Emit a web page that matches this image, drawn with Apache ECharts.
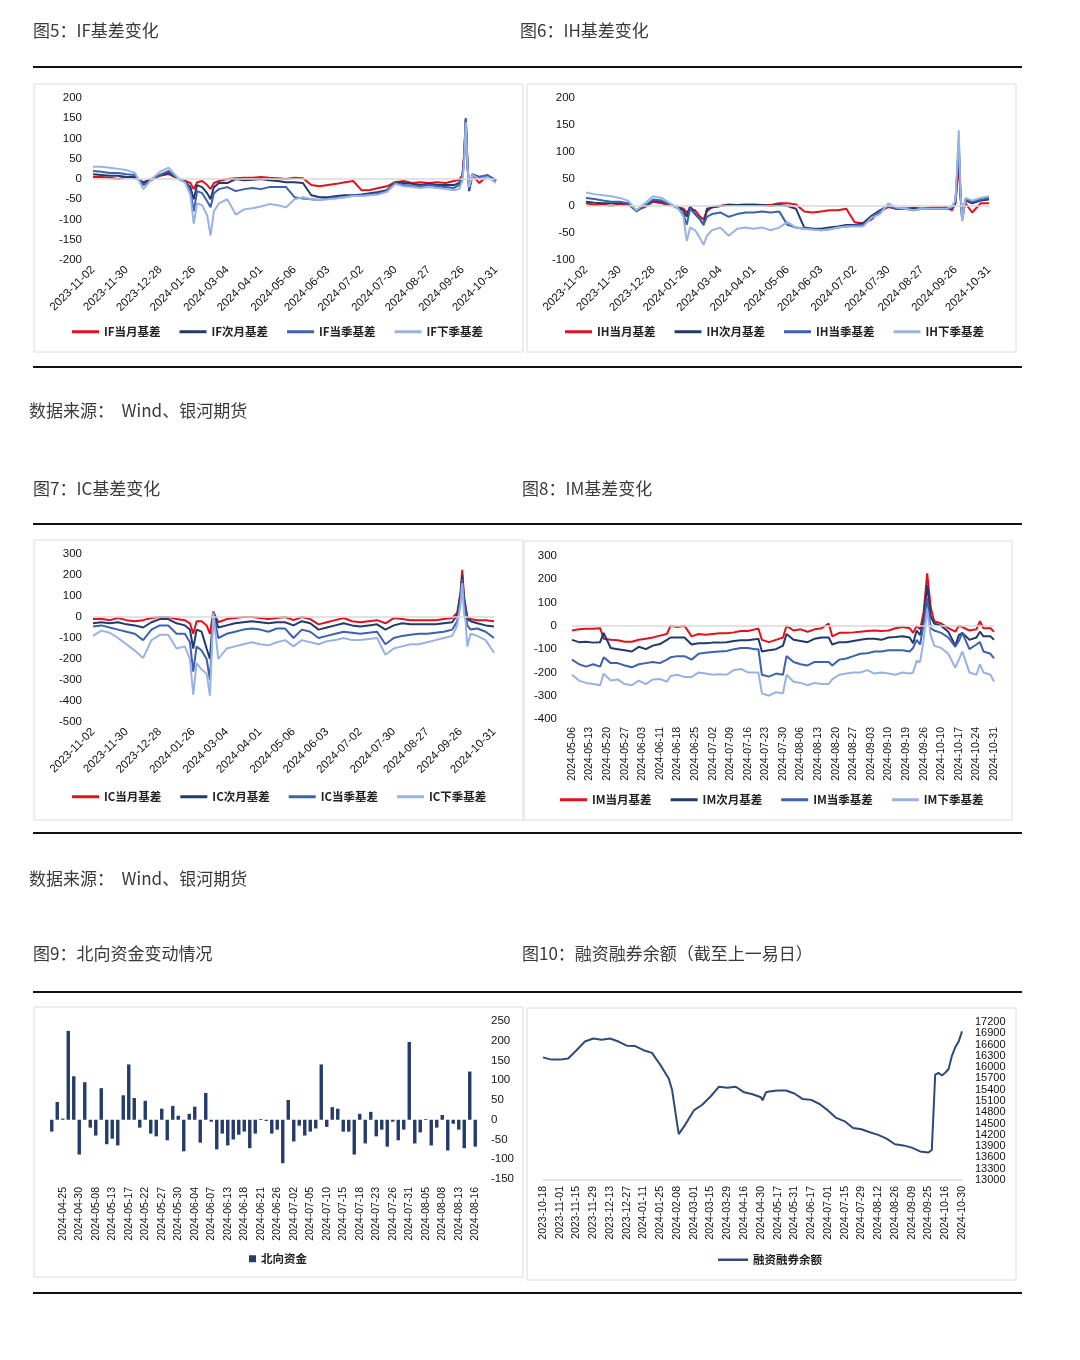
<!DOCTYPE html>
<html>
<head>
<meta charset="utf-8">
<script src="https://cdn.jsdelivr.net/npm/echarts@6/dist/echarts.min.js"></script>
<style>
html,body{margin:0;padding:0;background:#fff;}
#c{width:1080px;height:1360px;}
</style>
</head>
<body>
<div id="c"></div>
<script>
// ---------- tick labels ----------
const BASIS_TICKS = ['2023-11-02','2023-11-30','2023-12-28','2024-01-26','2024-03-04','2024-04-01','2024-05-06','2024-06-03','2024-07-02','2024-07-30','2024-08-27','2024-09-26','2024-10-31'];
const IM_TICKS = ['2024-05-06','2024-05-13','2024-05-20','2024-05-27','2024-06-03','2024-06-11','2024-06-18','2024-06-25','2024-07-02','2024-07-09','2024-07-16','2024-07-23','2024-07-30','2024-08-06','2024-08-13','2024-08-20','2024-08-27','2024-09-03','2024-09-10','2024-09-19','2024-09-26','2024-10-10','2024-10-17','2024-10-24','2024-10-31'];
const MG_TICKS = ['2023-10-18','2023-11-01','2023-11-15','2023-11-29','2023-12-13','2023-12-27','2024-01-11','2024-01-25','2024-02-08','2024-03-01','2024-03-15','2024-03-29','2024-04-16','2024-04-30','2024-05-17','2024-05-31','2024-06-17','2024-07-01','2024-07-15','2024-07-29','2024-08-12','2024-08-26','2024-09-09','2024-09-25','2024-10-16','2024-10-30'];

// ---------- IF / IH / IC: trading-day index of each sample (0 = 2023-11-02, 240 = 2024-10-31) ----------
const BASIS_DAY = [0,5,10,15,20,25,30,35,40,45,50,55,58,60,62,65,68,70,72,75,80,85,90,95,100,105,110,115,120,125,130,135,140,145,150,155,160,165,170,175,180,185,190,195,200,205,210,215,218,220,221,222,223,224,226,230,235,240];

const IF_CUR  = [5,5,3,0,5,3,-8,0,8,12, 2,-5,-10,-25,-8,-5,-15,-25,-10,-5, 0,2,3,3,5,3,2,0,3,2, -15,-18,-15,-12,-8,-5,-28,-27,-22,-18, -8,-5,-10,-8,-10,-8,-10,-5,-2,10, 60,145,30,-20,10,-10,8,-3];
const IF_NEXT = [12,10,8,8,5,5,-10,0,10,15, 3,-8,-20,-50,-15,-20,-35,-50,-20,-10, -10,0,-3,-2,0,-3,-5,-8,-8,-10, -40,-45,-45,-42,-40,-40,-38,-35,-32,-28, -8,-10,-12,-15,-12,-15,-15,-15,-10,5, 50,150,40,-30,10,5,8,-3];
const IF_Q    = [20,18,15,15,12,10,-15,-2,10,20, 3,-8,-30,-80,-30,-35,-55,-70,-35,-25, -20,-30,-25,-22,-25,-20,-20,-20,-45,-48, -50,-52,-48,-45,-45,-40,-40,-38,-35,-30, -10,-15,-18,-18,-15,-18,-20,-22,-15,5, 50,150,40,-25,12,5,10,-5];
const IF_NQ   = [30,30,28,25,22,15,-25,0,18,28, 5,-10,-40,-110,-60,-65,-90,-140,-80,-60, -50,-88,-75,-72,-68,-62,-65,-70,-50,-45, -50,-52,-50,-48,-45,-42,-42,-40,-38,-32, -12,-18,-20,-22,-20,-22,-25,-28,-25,-5, 40,140,30,-20,10,0,5,-10];

const IH_CUR  = [5,2,3,0,3,3,-8,-2,8,5, 2,-2,-5,-12,-5,-8,-20,-25,-10,-2, 0,3,2,2,3,2,2,5,5,3, -10,-12,-10,-8,-8,-5,-30,-32,-25,-10, -2,-5,-5,-3,-5,-3,-3,-2,-8,5, 40,80,20,-15,5,-12,5,5];
const IH_NEXT = [8,6,5,5,5,5,-8,0,10,8, 3,-3,-8,-20,0,-15,-25,-35,-5,-3, 0,2,2,3,2,2,0,2,0,-5, -40,-42,-42,-40,-38,-35,-35,-32,-18,-8, 0,-5,-5,-5,-5,-5,-5,-5,-5,5, 50,110,20,-25,10,5,10,12];
const IH_Q    = [15,13,10,8,8,5,-10,0,12,10, 3,-5,-15,-35,-5,-15,-25,-35,-20,-15, -12,-20,-15,-12,-12,-10,-12,-10,-35,-40, -42,-42,-45,-43,-40,-38,-36,-35,-20,-10, 0,-5,-5,-8,-5,-5,-5,-5,-5,8, 60,120,25,-25,12,8,12,15];
const IH_NQ   = [25,22,20,18,15,10,-8,5,18,15, 5,-5,-20,-65,-40,-45,-60,-72,-55,-45, -40,-55,-42,-40,-42,-40,-45,-40,-30,-40, -42,-44,-45,-43,-40,-38,-38,-38,-22,-15, 5,-3,-5,-8,-5,-5,-5,-5,0,10, 70,140,30,-28,15,10,15,18];

const IC_CUR  = [-10,-8,-15,-5,-15,-20,-15,-5,0,0, -10,-15,-30,-80,-20,-20,-40,-80,25,-25, -10,-5,0,0,-5,-10,-5,0,-15,0, -10,-35,-25,-15,-5,-20,-25,-20,-15,-30, -5,-10,-15,-15,-15,-15,-10,-5,20,120, 225,100,50,0,-10,-15,-15,-20];
const IC_NEXT = [-30,-25,-30,-25,-35,-40,-50,-25,-10,-10, -30,-40,-60,-150,-60,-70,-150,-200,20,-50, -40,-30,-25,-20,-25,-30,-25,-25,-40,-20, -30,-60,-50,-40,-30,-40,-45,-40,-35,-60, -40,-30,-35,-35,-35,-35,-30,-25,10,110, 200,90,40,-10,-20,-30,-40,-45];
const IC_Q    = [-45,-40,-50,-60,-70,-80,-110,-60,-40,-40, -80,-80,-120,-260,-140,-160,-200,-300,20,-100, -80,-70,-60,-55,-60,-70,-55,-55,-100,-60, -70,-100,-90,-80,-70,-75,-80,-75,-70,-130, -100,-90,-85,-80,-80,-75,-70,-60,-20,90, 180,70,30,-40,-60,-55,-70,-100];
const IC_NQ   = [-90,-65,-75,-100,-130,-160,-195,-110,-85,-85, -150,-140,-200,-370,-220,-250,-270,-375,20,-200, -150,-140,-130,-120,-130,-135,-120,-110,-140,-110, -120,-130,-115,-110,-100,-110,-110,-105,-100,-180, -150,-140,-130,-130,-120,-110,-100,-90,-40,60, 160,20,-20,-140,-80,-90,-110,-170];

// ---------- IM: trading-day index (0 = 2024-05-06, 120 = 2024-10-31) ----------
const IM_DAY = [0,2,4,6,8,9,11,13,15,17,19,21,23,25,27,28,30,32,34,36,38,40,42,44,46,48,50,52,53,54,56,58,60,61,63,65,67,69,71,73,74,76,78,80,82,84,86,88,90,92,94,96,97,98,99,100,101,102,103,105,107,109,110,111,113,115,116,117,119,120];
const IM_CUR  = [-20,-15,-12,-12,-10,-55,-60,-62,-68,-68,-60,-55,-50,-42,-35,0,-5,0,-45,-35,-38,-35,-32,-32,-28,-22,-22,-15,-12,-60,-70,-60,-50,0,-20,-15,-25,-15,-10,10,-45,-30,-30,-28,-25,-22,-20,-22,-20,-10,-5,-10,-30,0,-15,60,225,80,20,10,-10,-25,0,-5,-20,-15,20,-10,-10,-25];
const IM_NEXT = [-60,-70,-68,-72,-70,-30,-95,-100,-105,-110,-90,-100,-85,-78,-60,-50,-50,-50,-80,-75,-75,-72,-72,-70,-65,-62,-62,-58,-55,-110,-105,-100,-85,-35,-60,-65,-70,-55,-50,-50,-80,-70,-70,-65,-60,-55,-55,-60,-50,-48,-45,-50,-75,-20,-40,30,175,40,10,0,-25,-85,-40,-30,-60,-50,-25,-45,-45,-60];
const IM_Q    = [-145,-165,-175,-165,-175,-135,-160,-160,-170,-178,-165,-160,-155,-160,-145,-135,-130,-130,-145,-120,-115,-112,-110,-108,-100,-95,-95,-100,-100,-210,-218,-205,-210,-130,-155,-165,-170,-155,-155,-155,-170,-145,-140,-130,-120,-118,-110,-110,-105,-105,-105,-110,-95,-60,-80,10,120,-10,-20,-30,-50,-90,-65,-30,-100,-80,-70,-110,-120,-140];
const IM_NQ   = [-210,-235,-245,-250,-255,-205,-235,-230,-250,-255,-235,-250,-230,-228,-240,-215,-210,-220,-220,-200,-205,-210,-208,-210,-190,-185,-200,-200,-200,-290,-300,-285,-290,-210,-240,-245,-255,-245,-250,-250,-230,-210,-205,-200,-200,-190,-205,-200,-205,-210,-200,-205,-200,-150,-155,-60,70,-40,-85,-95,-120,-180,-145,-110,-200,-210,-165,-200,-210,-240];

// ---------- Northbound flows ----------
const NB_DATES = ['2024-04-23','2024-04-24','2024-04-25','2024-04-26','2024-04-29','2024-04-30','2024-05-06','2024-05-07','2024-05-08','2024-05-09','2024-05-10','2024-05-13','2024-05-14','2024-05-16','2024-05-17','2024-05-20','2024-05-21','2024-05-22','2024-05-23','2024-05-24','2024-05-27','2024-05-28','2024-05-29','2024-05-30','2024-05-31','2024-06-03','2024-06-04','2024-06-05','2024-06-06','2024-06-07','2024-06-11','2024-06-12','2024-06-13','2024-06-14','2024-06-17','2024-06-18','2024-06-19','2024-06-20','2024-06-21','2024-06-24','2024-06-25','2024-06-26','2024-06-27','2024-06-28','2024-07-02','2024-07-03','2024-07-04','2024-07-05','2024-07-08','2024-07-09','2024-07-10','2024-07-11','2024-07-12','2024-07-15','2024-07-16','2024-07-17','2024-07-18','2024-07-19','2024-07-22','2024-07-23','2024-07-24','2024-07-25','2024-07-26','2024-07-29','2024-07-30','2024-07-31','2024-08-01','2024-08-02','2024-08-05','2024-08-06','2024-08-07','2024-08-08','2024-08-09','2024-08-12','2024-08-13','2024-08-14','2024-08-15','2024-08-16'];
const NB_VAL = [-30,45,3,225,110,-88,95,-20,-40,80, -62,-48,-65,62,140,55,-20,48,-35,-42, 28,-52,35,10,-80,15,33,-58,68,-5, -75,-35,-65,-50,-38,-30,-72,-35,2,-3, -35,-25,-110,50,-55,-15,-40,-30,-22,140, -18,32,28,-30,-30,-88,15,-60,20,-42, -25,-68,-5,-52,-25,197,-60,-32,2,-65, -20,12,-78,-10,-25,-72,122,-68];

// ---------- Margin balance: trading-day index (0 = 2023-10-18, 250 = 2024-10-30) ----------
const MG_DAY = [0,5,10,15,20,25,30,35,40,45,50,55,60,65,70,75,77,80,81,85,90,95,100,105,110,115,120,125,130,131,133,135,140,145,150,155,160,165,170,175,180,185,190,195,200,205,210,215,220,225,230,232,233,234,236,238,240,242,244,246,248,250];
const MG_VAL = [16260,16200,16200,16230,16450,16680,16760,16730,16760,16680,16570,16560,16450,16380,16060,15700,15400,14500,14220,14480,14850,15000,15220,15480,15450,15480,15330,15280,15200,15120,15330,15350,15380,15380,15300,15150,15130,15020,14850,14650,14560,14380,14350,14270,14200,14100,13950,13920,13860,13760,13730,13800,14800,15800,15850,15780,15850,15950,16300,16530,16680,16950];

// ---------- styling ----------
const RED = '#e0121c', NAVY = '#203a6c', MED = '#3c62ad', LIGHT = '#98b3e3';
const FN = '"Liberation Sans", Arial, sans-serif';
const FC = '"Noto Sans CJK SC", sans-serif';

function pairs(xs, ys) { return xs.map((x, i) => [x, ys[i]]); }

function lineS(name, idx, xs, ys, color, zero) {
  const s = {
    name, type: 'line', xAxisIndex: idx, yAxisIndex: idx, data: pairs(xs, ys),
    showSymbol: false, symbol: 'none', lineStyle: { color, width: 2 }, itemStyle: { color },
    emphasis: { disabled: true }
  };
  if (zero) s.markLine = { silent: true, symbol: 'none', label: { show: false },
    lineStyle: { color: '#d9d9d9', width: 1.5, type: 'solid' }, data: [{ yAxis: 0 }] };
  return s;
}
function tickX(gi, max, step, ticks, rotate, fontSize, margin, line) {
  return { type: 'value', gridIndex: gi, min: 0, max, interval: step,
    axisLine: { show: !!line, lineStyle: { color: '#d9d9d9', width: 1.5 } }, axisTick: { show: false }, splitLine: { show: false },
    axisLabel: { rotate, fontSize, color: '#111', fontFamily: FN, margin, showMinLabel: true, showMaxLabel: true,
      formatter: v => ticks[Math.round(v / step)] || '' } };
}
function valY(gi, min, max, step, pos, margin, fontSize) {
  return { type: 'value', gridIndex: gi, min, max, interval: step, position: pos,
    axisLine: { show: false }, axisTick: { show: false }, splitLine: { show: false },
    axisLabel: { fontSize, color: '#111', fontFamily: FN, margin, formatter: v => String(v) } };
}
function leg(names, left, top, o) {
  return Object.assign({ data: names, left, top, orient: 'horizontal', itemWidth: 27, itemHeight: 3, itemGap: 19,
    icon: 'rect', padding: 0, selectedMode: false,
    textStyle: { fontSize: 11.5, fontWeight: 'bold', color: '#222', fontFamily: FC } }, o || {});
}

// ---------- page decorations ----------
const graphic = [];
[67, 367, 524, 833, 992, 1293].forEach(y => graphic.push({ type: 'line', silent: true,
  shape: { x1: 33, y1: y, x2: 1022, y2: y }, style: { stroke: '#111', lineWidth: 2 } }));
[[34,84,489,268],[527,84,489,268],[34,540,489,280],[524,541,488,279],[34,1007,489,270],[527,1008,489,272]].forEach(b =>
  graphic.push({ type: 'rect', silent: true, z: -10, shape: { x: b[0], y: b[1], width: b[2], height: b[3] },
    style: { fill: 'none', stroke: '#dcdcdc', lineWidth: 1 } }));
[['图5：IF基差变化',33,31],['图6：IH基差变化',520,31],['数据来源：  Wind、银河期货',29,411],
 ['图7：IC基差变化',33,489],['图8：IM基差变化',522,489],['数据来源：  Wind、银河期货',29,879],
 ['图9：北向资金变动情况',33,954],['图10：融资融券余额（截至上一易日）',522,954]].forEach(t =>
  graphic.push({ type: 'text', silent: true, style: { text: t[0], x: t[1], y: t[2], textVerticalAlign: 'middle',
    font: '17px ' + FC, fill: '#3a3a3a' } }));

const option = {
  animation: false,
  backgroundColor: '#fff',
  graphic,
  grid: [
    { left: 93, top: 98, width: 403, height: 162 },
    { left: 586, top: 98, width: 403, height: 162 },
    { left: 93, top: 554, width: 401, height: 168 },
    { left: 572, top: 556, width: 422, height: 163 },
    { left: 49, top: 1021, width: 429, height: 158 },
    { left: 543, top: 1022, width: 419, height: 158 }
  ],
  xAxis: [
    tickX(0, 240, 20, BASIS_TICKS, 45, 11.5, 8),
    tickX(1, 240, 20, BASIS_TICKS, 45, 11.5, 8),
    tickX(2, 240, 20, BASIS_TICKS, 45, 11.5, 8),
    tickX(3, 120, 5, IM_TICKS, 90, 10.5, 8),
    { type: 'category', gridIndex: 4, data: NB_DATES, axisLine: { show: false }, axisTick: { show: false },
      axisLabel: { rotate: 90, fontSize: 10.5, color: '#111', fontFamily: FN, margin: 8,
        interval: (i) => i % 3 === 2 } },
    tickX(5, 250, 10, MG_TICKS, 90, 10.5, 6, true)
  ],
  yAxis: [
    valY(0, -200, 200, 50, 'left', 11, 11.5),
    valY(1, -100, 200, 50, 'left', 11, 11.5),
    valY(2, -500, 300, 100, 'left', 11, 11.5),
    valY(3, -400, 300, 100, 'left', 15, 11.5),
    valY(4, -150, 250, 50, 'right', 13, 11.5),
    valY(5, 13000, 17200, 300, 'right', 13, 11)
  ],
  legend: [
    leg(['IF当月基差','IF次月基差','IF当季基差','IF下季基差'], 72, 326),
    leg(['IH当月基差','IH次月基差','IH当季基差','IH下季基差'], 565, 326),
    leg(['IC当月基差','IC次月基差','IC当季基差','IC下季基差'], 72, 791),
    leg(['IM当月基差','IM次月基差','IM当季基差','IM下季基差'], 560, 794),
    leg(['北向资金'], 249, 1253, { itemWidth: 7, itemHeight: 7 }),
    leg(['融资融券余额'], 718, 1254, { itemWidth: 30, itemHeight: 2.5 })
  ],
  series: [
    lineS('IF当月基差', 0, BASIS_DAY, IF_CUR, RED, true),
    lineS('IF次月基差', 0, BASIS_DAY, IF_NEXT, NAVY),
    lineS('IF当季基差', 0, BASIS_DAY, IF_Q, MED),
    lineS('IF下季基差', 0, BASIS_DAY, IF_NQ, LIGHT),
    lineS('IH当月基差', 1, BASIS_DAY, IH_CUR, RED, true),
    lineS('IH次月基差', 1, BASIS_DAY, IH_NEXT, NAVY),
    lineS('IH当季基差', 1, BASIS_DAY, IH_Q, MED),
    lineS('IH下季基差', 1, BASIS_DAY, IH_NQ, LIGHT),
    lineS('IC当月基差', 2, BASIS_DAY, IC_CUR, RED, true),
    lineS('IC次月基差', 2, BASIS_DAY, IC_NEXT, NAVY),
    lineS('IC当季基差', 2, BASIS_DAY, IC_Q, MED),
    lineS('IC下季基差', 2, BASIS_DAY, IC_NQ, LIGHT),
    lineS('IM当月基差', 3, IM_DAY, IM_CUR, RED, true),
    lineS('IM次月基差', 3, IM_DAY, IM_NEXT, NAVY),
    lineS('IM当季基差', 3, IM_DAY, IM_Q, MED),
    lineS('IM下季基差', 3, IM_DAY, IM_NQ, LIGHT),
    { name: '北向资金', type: 'bar', xAxisIndex: 4, yAxisIndex: 4, data: NB_VAL, barWidth: '62%',
      itemStyle: { color: '#243b6b' }, emphasis: { disabled: true } },
    lineS('融资融券余额', 5, MG_DAY, MG_VAL, '#2e4a7d')
  ]
};

const chart = echarts.init(document.getElementById('c'), null, { renderer: 'canvas' });
chart.setOption(option);
</script>
</body>
</html>
